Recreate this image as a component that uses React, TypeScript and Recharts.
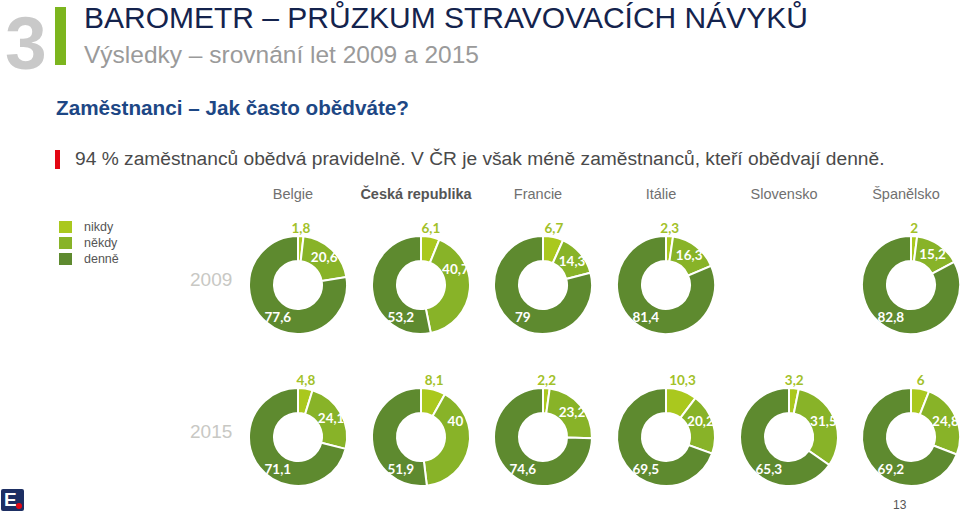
import React from "react";
import { PieChart, Pie, Cell } from "recharts";

const categories = ["nikdy", "někdy", "denně"];
const countries = ["Belgie", "Česká republika", "Francie", "Itálie", "Slovensko", "Španělsko"];
const years = ["2009", "2015"];

// values per country: [nikdy, někdy, denně]; null = no data
const values2009: (number[] | null)[] = [
  [1.8, 20.6, 77.6],
  [6.1, 40.7, 53.2],
  [6.7, 14.3, 79],
  [2.3, 16.3, 81.4],
  null,
  [2, 15.2, 82.8],
];
const values2015: (number[] | null)[] = [
  [4.8, 24.1, 71.1],
  [8.1, 40, 51.9],
  [2.2, 23.2, 74.6],
  [10.3, 20.2, 69.5],
  [3.2, 31.5, 65.3],
  [6, 24.8, 69.2],
];

const COLORS = ["#aac81e", "#88b328", "#5e8a2f"];
const LABEL_NIKDY = "#a2c128";
const COL_X = [293, 416, 538, 661, 784, 906];
const ROW_Y = [280, 432];
const FONT = "Liberation Sans, Arial, sans-serif";
const LABEL_FONT = "Lato, 'Open Sans', sans-serif";

const fmt = (v: number) => String(v).replace(".", ",");

const renderLabel = (p: any) => {
  const { cx, cy, midAngle, index, value } = p;
  const clockDeg = 90 - midAngle; // clockwise from 12 o'clock
  const rad = (Math.PI / 180) * clockDeg;
  let x = cx;
  let y = cy;
  let fill = "#fff";
  if (index === 0) {
    x = cx + 52 * Math.sin(rad);
    y = cy - 57;
    fill = LABEL_NIKDY;
  } else if (index === 1) {
    const a = (Math.PI / 180) * Math.min(clockDeg, 65);
    x = cx + 38 * Math.sin(a);
    y = cy - 38 * Math.cos(a);
  } else {
    const a = (Math.PI / 180) * 212;
    x = cx + 38 * Math.sin(a);
    y = cy - 38 * Math.cos(a);
  }
  return (
    <text
      x={x}
      y={y}
      fill={fill}
      textAnchor="middle"
      dominantBaseline="central"
      fontFamily={LABEL_FONT}
      fontWeight={700}
      fontSize={13.5}
    >
      {fmt(value)}
    </text>
  );
};

const abs = (s: React.CSSProperties): React.CSSProperties => ({ position: "absolute", whiteSpace: "nowrap", ...s });

export default function App() {
  const rows = [values2009, values2015];
  return (
    <div style={{ position: "absolute", left: 0, top: 0, width: 960, height: 518, background: "#fff", overflow: "hidden", fontFamily: FONT }}>
      {/* header */}
      <div style={abs({ left: 5, top: 0, fontSize: 75, fontWeight: 700, color: "#c9c9c9", lineHeight: "normal", letterSpacing: -1 })}>3</div>
      <div style={abs({ left: 55, top: 7, width: 11, height: 58, background: "#7cb51e" })} />
      <div style={abs({ left: 84, top: 1, fontSize: 30, color: "#14234d", lineHeight: "34px" })}>
        BAROMETR – PRŮZKUM STRAVOVACÍCH NÁVYKŮ
      </div>
      <div style={abs({ left: 84, top: 40, fontSize: 24.5, color: "#9a9a9a", lineHeight: "30px" })}>
        Výsledky – srovnání let 2009 a 2015
      </div>
      <div style={abs({ left: 56, top: 95, fontSize: 20.7, fontWeight: 700, color: "#1d4785", lineHeight: "26px" })}>
        Zaměstnanci – Jak často obědváte?
      </div>
      <div style={abs({ left: 55, top: 150, width: 5, height: 19, background: "#e30613" })} />
      <div style={abs({ left: 75, top: 146, fontSize: 19.2, color: "#4a4a4a", lineHeight: "26px" })}>
        94 % zaměstnanců obědvá pravidelně. V ČR je však méně zaměstnanců, kteří obědvají denně.
      </div>

      {/* column headers */}
      {countries.map((c, i) => (
        <div
          key={c}
          style={abs({
            left: COL_X[i] - 80,
            width: 160,
            textAlign: "center",
            top: 185,
            fontSize: 14.5,
            fontWeight: i === 1 ? 700 : 400,
            color: i === 1 ? "#555" : "#707070",
            lineHeight: "18px",
          })}
        >
          {c}
        </div>
      ))}

      {/* legend */}
      {categories.map((c, i) => (
        <React.Fragment key={c}>
          <div style={abs({ left: 59, top: 221 + i * 16, width: 13, height: 12, background: COLORS[i] })} />
          <div style={abs({ left: 84, top: 219 + i * 16, fontSize: 12.5, color: "#555", lineHeight: "16px" })}>{c}</div>
        </React.Fragment>
      ))}

      {/* year labels */}
      {years.map((y, i) => (
        <div key={y} style={abs({ left: 190, top: ROW_Y[i] - 12, fontSize: 19, color: "#c8c8c4", lineHeight: "24px" })}>
          {y}
        </div>
      ))}

      {/* donuts */}
      <div style={abs({ left: 0, top: 0 })}>
        <PieChart width={960} height={518}>
          {rows.map((row, r) =>
            row.map((vals, c) => {
              if (!vals) return null;
              const data = categories.map((name, k) => ({ name, value: vals[k] }));
              return (
                <Pie
                  key={`${r}-${c}`}
                  data={data}
                  dataKey="value"
                  nameKey="name"
                  cx={COL_X[c]}
                  cy={ROW_Y[r]}
                  innerRadius={24}
                  outerRadius={49}
                  startAngle={90}
                  endAngle={-270}
                  stroke="#ffffff"
                  strokeWidth={2}
                  label={renderLabel}
                  labelLine={false}
                  isAnimationActive={false}
                >
                  {data.map((d, k) => (
                    <Cell key={d.name} fill={COLORS[k]} />
                  ))}
                </Pie>
              );
            })
          )}
        </PieChart>
      </div>

      {/* page number */}
      <div style={abs({ left: 893, top: 497, fontSize: 12, color: "#555", lineHeight: "16px" })}>13</div>

      {/* logo */}
      <div style={abs({ left: 1, top: 489, width: 23, height: 22, background: "#1d2f63", borderRadius: 2 })}>
        <div style={abs({ left: 3, top: 1, fontSize: 19, fontWeight: 700, color: "#fff", lineHeight: "20px" })}>E</div>
        <div style={abs({ left: 15, top: 14, width: 6, height: 6, borderRadius: 3, background: "#e30613" })} />
      </div>
    </div>
  );
}
